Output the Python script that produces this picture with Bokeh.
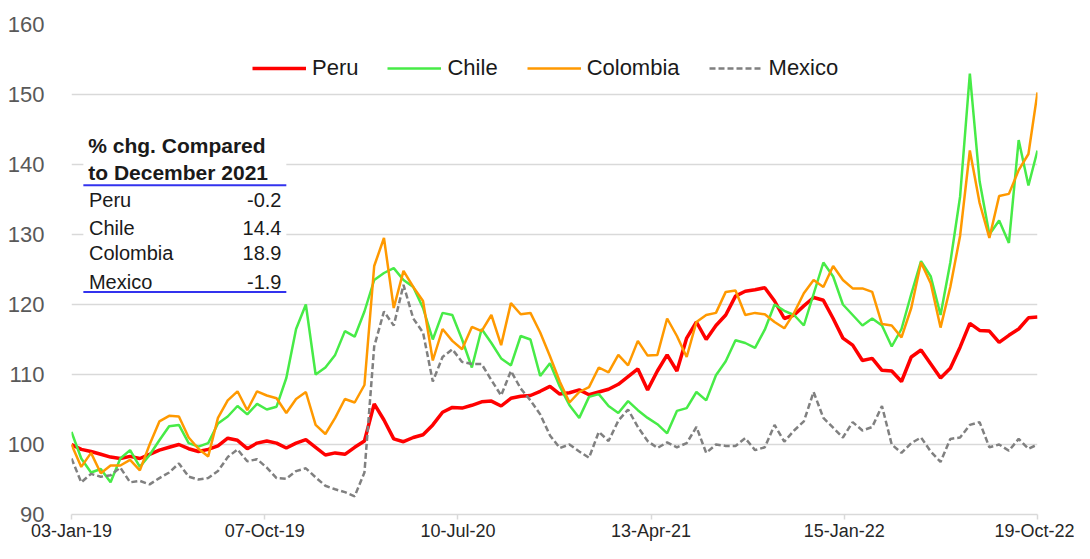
import pandas as pd
from bokeh.plotting import figure
from bokeh.models import (Range1d, FixedTicker, DatetimeTickFormatter, Legend, LegendItem,
                          Label, BoxAnnotation, ColumnDataSource)
from bokeh.embed import file_html
from bokeh.resources import INLINE

# ---------------- data ----------------
start_date = "2019-01-03"
end_date = "2022-10-19"
dates = list(pd.date_range(start_date, periods=99, freq="14D")) + [pd.Timestamp(end_date)]

peru = [100.0, 99.3, 99.0, 98.6, 98.2, 98.0, 98.3, 98.0, 98.6, 99.2,
        99.6, 100.0, 99.4, 99.0, 99.3, 99.8, 100.9, 100.6, 99.4, 100.2,
        100.5, 100.2, 99.5, 100.2, 100.7, 99.6, 98.5, 98.8, 98.6, 99.6,
        100.5, 105.8, 103.5, 100.8, 100.4, 101.0, 101.4, 102.8, 104.6, 105.3,
        105.2, 105.6, 106.1, 106.2, 105.5, 106.6, 106.9, 107.0, 107.6, 108.3,
        107.2, 107.4, 107.8, 107.1, 107.5, 107.9, 108.6, 109.7, 110.8, 107.8,
        110.5, 112.8, 110.5, 115.2, 117.5, 115.0, 117.0, 118.5, 121.2, 121.9,
        122.1, 122.4, 120.5, 118.0, 118.5, 119.8, 121.0, 120.6, 118.0, 115.2,
        114.2, 112.0, 112.3, 110.6, 110.5, 109.0, 112.5, 113.5, 111.5, 109.5,
        110.9, 113.9, 117.3, 116.3, 116.2, 114.6, 115.6, 116.5, 118.1, 118.2]

chile = [101.8, 98.0, 96.0, 96.5, 94.6, 98.0, 99.2, 96.8, 98.5, 100.6,
         102.6, 102.8, 100.2, 99.7, 100.2, 103.0, 104.0, 105.5, 104.3, 105.8,
         105.0, 105.4, 109.5, 116.5, 120.0, 110.0, 111.0, 112.8, 116.2, 115.4,
         119.0, 123.5, 124.5, 125.2, 123.5, 122.5, 119.5, 115.0, 118.8, 118.5,
         115.0, 111.0, 116.5, 114.5, 112.3, 111.3, 115.5, 115.0, 109.8, 111.6,
         108.3, 105.6, 103.8, 106.8, 107.2, 105.5, 104.5, 106.2, 104.9, 103.8,
         102.9, 101.6, 104.8, 105.2, 107.5, 106.3, 109.9, 111.9, 114.9, 114.5,
         113.8, 116.4, 120.0, 119.1, 118.5, 117.0, 121.5, 126.0, 124.0, 120.0,
         118.5, 117.0, 118.0, 117.0, 114.0, 116.5, 121.5, 126.2, 124.0, 118.5,
         126.0, 135.4, 153.0, 137.6, 130.0, 132.0, 128.8, 143.5, 137.0, 142.0]

colombia = [100.0, 96.8, 98.8, 95.9, 97.0, 97.0, 97.8, 96.3, 100.0, 103.3,
            104.1, 104.0, 101.0, 99.4, 98.3, 103.8, 106.3, 107.6, 104.9, 107.6,
            107.0, 106.6, 104.5, 106.5, 107.5, 102.8, 101.5, 103.8, 106.5, 106.0,
            108.5, 125.5, 129.5, 119.5, 124.8, 122.5, 120.5, 112.0, 116.5, 114.8,
            113.6, 116.8, 116.2, 118.5, 114.2, 120.2, 118.6, 118.8, 116.0, 112.6,
            109.0, 106.0, 107.5, 108.2, 111.0, 110.3, 112.8, 111.3, 114.8, 112.7,
            112.8, 118.0, 115.5, 112.5, 117.5, 118.5, 118.8, 121.8, 122.0, 118.5,
            118.8, 118.6, 117.5, 116.6, 118.8, 121.6, 123.5, 122.5, 125.5, 123.5,
            122.3, 122.3, 121.8, 117.2, 117.0, 115.3, 119.5, 126.0, 123.0, 116.7,
            122.5, 129.8, 142.0, 134.5, 129.5, 135.5, 135.8, 139.2, 141.5, 150.3]

mexico = [98.0, 94.6, 95.8, 95.4, 95.6, 96.7, 94.6, 94.8, 94.3, 95.2,
          96.0, 97.3, 95.4, 95.0, 95.2, 96.2, 98.2, 99.3, 97.6, 97.9,
          96.7, 95.2, 95.1, 96.2, 96.6, 95.3, 94.1, 93.6, 93.2, 92.6,
          96.0, 114.0, 119.0, 117.0, 122.8, 118.0, 116.0, 109.0, 112.5, 113.6,
          111.8, 111.5, 111.5, 109.2, 107.0, 110.5, 108.0, 106.3, 104.3, 101.3,
          99.5, 100.0, 99.0, 98.1, 101.8, 100.5, 103.4, 105.0, 102.5, 100.5,
          99.5, 100.3, 99.6, 100.2, 102.5, 98.8, 100.0, 99.8, 99.8, 100.9,
          99.2, 99.6, 102.8, 100.4, 102.0, 103.3, 107.5, 103.8, 102.4, 101.0,
          103.2, 102.0, 102.5, 105.5, 100.0, 98.8, 100.2, 101.0, 99.0, 97.5,
          100.8, 101.0, 102.8, 103.2, 99.6, 100.0, 99.1, 100.8, 99.4, 100.0]

series_names = ["Peru", "Chile", "Colombia", "Mexico"]
y_ticks = [90, 100, 110, 120, 130, 140, 150, 160]
x_tick_dates = ["2019-01-03", "2019-10-07", "2020-07-10", "2021-04-13", "2022-01-15", "2022-10-19"]

table_title = ["% chg. Compared", "to December 2021"]
table_names = ["Peru", "Chile", "Colombia", "Mexico"]
table_values = ["-0.2", "14.4", "18.9", "-1.9"]

# ---------------- figure ----------------
FONT = "Liberation Sans"

p = figure(width=1074, height=543, x_axis_type="datetime",
           x_range=Range1d(pd.Timestamp(start_date), pd.Timestamp(end_date)),
           y_range=Range1d(90, 160),
           output_backend="svg", toolbar_location=None,
           min_border_left=71, min_border_right=37, min_border_top=24, min_border_bottom=27)
p.outline_line_color = None
p.background_fill_color = "white"

p.xgrid.visible = False
p.ygrid.grid_line_color = "#d9d9d9"
p.ygrid.grid_line_width = 1.5

p.yaxis.ticker = FixedTicker(ticks=y_ticks)
p.yaxis.axis_line_color = None
p.yaxis.major_tick_line_color = None
p.yaxis.minor_tick_line_color = None
p.yaxis.major_label_text_font = FONT
p.yaxis.major_label_text_font_size = "22px"
p.yaxis.major_label_text_color = "#595959"
p.yaxis.major_label_standoff = 21

x_tick_ms = [pd.Timestamp(d).value / 1e6 for d in x_tick_dates]
p.xaxis.ticker = FixedTicker(ticks=x_tick_ms)
fmt = "%d-%b-%y"
p.xaxis.formatter = DatetimeTickFormatter(days=fmt, months=fmt, years=fmt, hours=fmt,
                                          hourmin=fmt, minutes=fmt, minsec=fmt, seconds=fmt,
                                          milliseconds=fmt, microseconds=fmt)
p.xaxis.axis_line_color = "#d9d9d9"
p.xaxis.axis_line_width = 1.5
p.xaxis.major_tick_line_color = "#d9d9d9"
p.xaxis.major_tick_line_width = 1.5
p.xaxis.major_tick_out = 5
p.xaxis.major_tick_in = 0
p.xaxis.minor_tick_line_color = None
p.xaxis.major_label_text_font = FONT
p.xaxis.major_label_text_font_size = "18px"
p.xaxis.major_label_text_color = "#262626"
p.xaxis.major_label_standoff = 1

src = ColumnDataSource(dict(date=dates, Peru=peru, Chile=chile, Colombia=colombia, Mexico=mexico))

r_peru = p.line("date", "Peru", source=src, line_color="#ff0000", line_width=3.5)
r_chile = p.line("date", "Chile", source=src, line_color="#47eb47", line_width=2.5)
r_col = p.line("date", "Colombia", source=src, line_color="#ff9900", line_width=2.5)
r_mex = p.line("date", "Mexico", source=src, line_color="#808080", line_width=2.5, line_dash="6 3")

legend = Legend(items=[LegendItem(label=n, renderers=[r]) for n, r in
                       zip(series_names, [r_peru, r_chile, r_col, r_mex])],
                orientation="horizontal", location=(181, 433),
                padding=0, margin=0, spacing=29, glyph_width=54, label_standoff=6,
                background_fill_alpha=0, border_line_alpha=0,
                label_text_font=FONT, label_text_font_size="22px", label_text_color="#1a1a1a")
p.add_layout(legend)

# ---------------- summary table ----------------
t0 = pd.Timestamp(start_date)
def dx(days):
    return (t0 + pd.Timedelta(days=days)).value / 1e6

p.add_layout(BoxAnnotation(left=dx(17), right=dx(308), bottom=121.5, top=145.5,
                           fill_color="white", fill_alpha=1, line_alpha=0, level="underlay"))
p.ygrid.level = "image"

title_y = [142.7, 138.9]
for txt, yy in zip(table_title, title_y):
    p.add_layout(Label(x=dx(24), y=yy, text=txt, text_font=FONT, text_font_size="21px",
                       text_font_style="bold", text_color="#1a1a1a", text_baseline="middle"))

row_y = [135.0, 130.9, 127.3, 123.2]
for name, val, yy in zip(table_names, table_values, row_y):
    p.add_layout(Label(x=dx(25), y=yy, text=name, text_font=FONT, text_font_size="20px",
                       text_color="#1a1a1a", text_baseline="middle"))
    p.add_layout(Label(x=dx(301), y=yy, text=val, text_font=FONT, text_font_size="20px",
                       text_color="#1a1a1a", text_baseline="middle", text_align="right"))

p.segment(x0=[dx(17), dx(17)], y0=[137.05, 121.8], x1=[dx(308), dx(308)], y1=[137.05, 121.8],
          line_color="#3333ee", line_width=2)

open("out.html", "w").write(file_html(p, INLINE))
